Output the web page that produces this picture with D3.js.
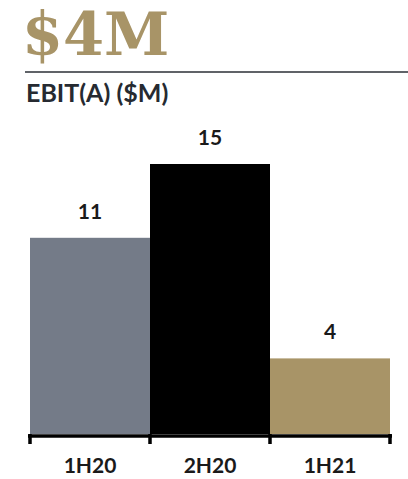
<!DOCTYPE html>
<html>
<head>
<meta charset="utf-8">
<script src="https://cdn.jsdelivr.net/npm/d3@7"></script>
<style>
  body { margin: 0; background: #fff; }
  svg { display: block; }
</style>
</head>
<body>
<div id="chart"></div>
<script>
// data
const categories = ["1H20", "2H20", "1H21"];
const values = [10.9, 15, 4.2];
const labels = ["11", "15", "4"];
const colors = ["#747b88", "#000000", "#a89467"];
const headline = "$4M";
const subtitle = "EBIT(A) ($M)";

const width = 408;
const height = 479;
const base = 434;

const svg = d3.select("#chart")
  .append("svg")
  .attr("width", width)
  .attr("height", height);

// header
svg.append("text")
  .attr("x", 22)
  .attr("y", 55)
  .attr("fill", "#a89467")
  .style("font-family", "'DejaVu Serif'")
  .style("font-weight", "bold")
  .style("font-size", "59px")
  .text(headline);

svg.append("line")
  .attr("x1", 25).attr("x2", width)
  .attr("y1", 72).attr("y2", 72)
  .attr("stroke", "#2b2f36")
  .attr("stroke-width", 1.5);

svg.append("text")
  .attr("x", 26)
  .attr("y", 102)
  .attr("fill", "#262a31")
  .style("font-family", "Lato")
  .style("font-weight", "bold")
  .style("font-size", "25px")
  .text(subtitle);

// scales
const x = d3.scaleBand()
  .domain(categories)
  .range([30, 390])
  .paddingInner(0)
  .paddingOuter(0);

const y = d3.scaleLinear()
  .domain([0, 15])
  .range([base, 164]);

// bars
svg.selectAll("rect.bar")
  .data(categories)
  .enter()
  .append("rect")
  .attr("class", "bar")
  .attr("x", d => x(d))
  .attr("y", (d, i) => y(values[i]))
  .attr("width", x.bandwidth())
  .attr("height", (d, i) => y(0) - y(values[i]))
  .attr("fill", (d, i) => colors[i]);

// value labels
svg.selectAll("text.value")
  .data(categories)
  .enter()
  .append("text")
  .attr("class", "value")
  .attr("x", d => x(d) + x.bandwidth() / 2)
  .attr("y", (d, i) => y(values[i]) - 19)
  .attr("text-anchor", "middle")
  .attr("fill", "#1a1a1a")
  .style("font-family", "Lato")
  .style("font-weight", "bold")
  .style("font-size", "21px")
  .text((d, i) => labels[i]);

// axis
const axis = svg.append("g");
axis.append("line")
  .attr("x1", x.range()[0] - 2).attr("x2", x.range()[1] + 2)
  .attr("y1", base + 2).attr("y2", base + 2)
  .attr("stroke", "#000")
  .attr("stroke-width", 3.5);

const tickPos = categories.map(d => x(d)).concat([x.range()[1]]);
axis.selectAll("line.tick")
  .data(tickPos)
  .enter()
  .append("line")
  .attr("class", "tick")
  .attr("x1", d => d).attr("x2", d => d)
  .attr("y1", base).attr("y2", base + 10)
  .attr("stroke", "#000")
  .attr("stroke-width", 3.5);

axis.selectAll("text.cat")
  .data(categories)
  .enter()
  .append("text")
  .attr("class", "cat")
  .attr("x", d => x(d) + x.bandwidth() / 2)
  .attr("y", 473)
  .attr("text-anchor", "middle")
  .attr("fill", "#1a1a1a")
  .style("font-family", "Lato")
  .style("font-weight", "bold")
  .style("font-size", "21px")
  .text(d => d);
</script>
</body>
</html>
